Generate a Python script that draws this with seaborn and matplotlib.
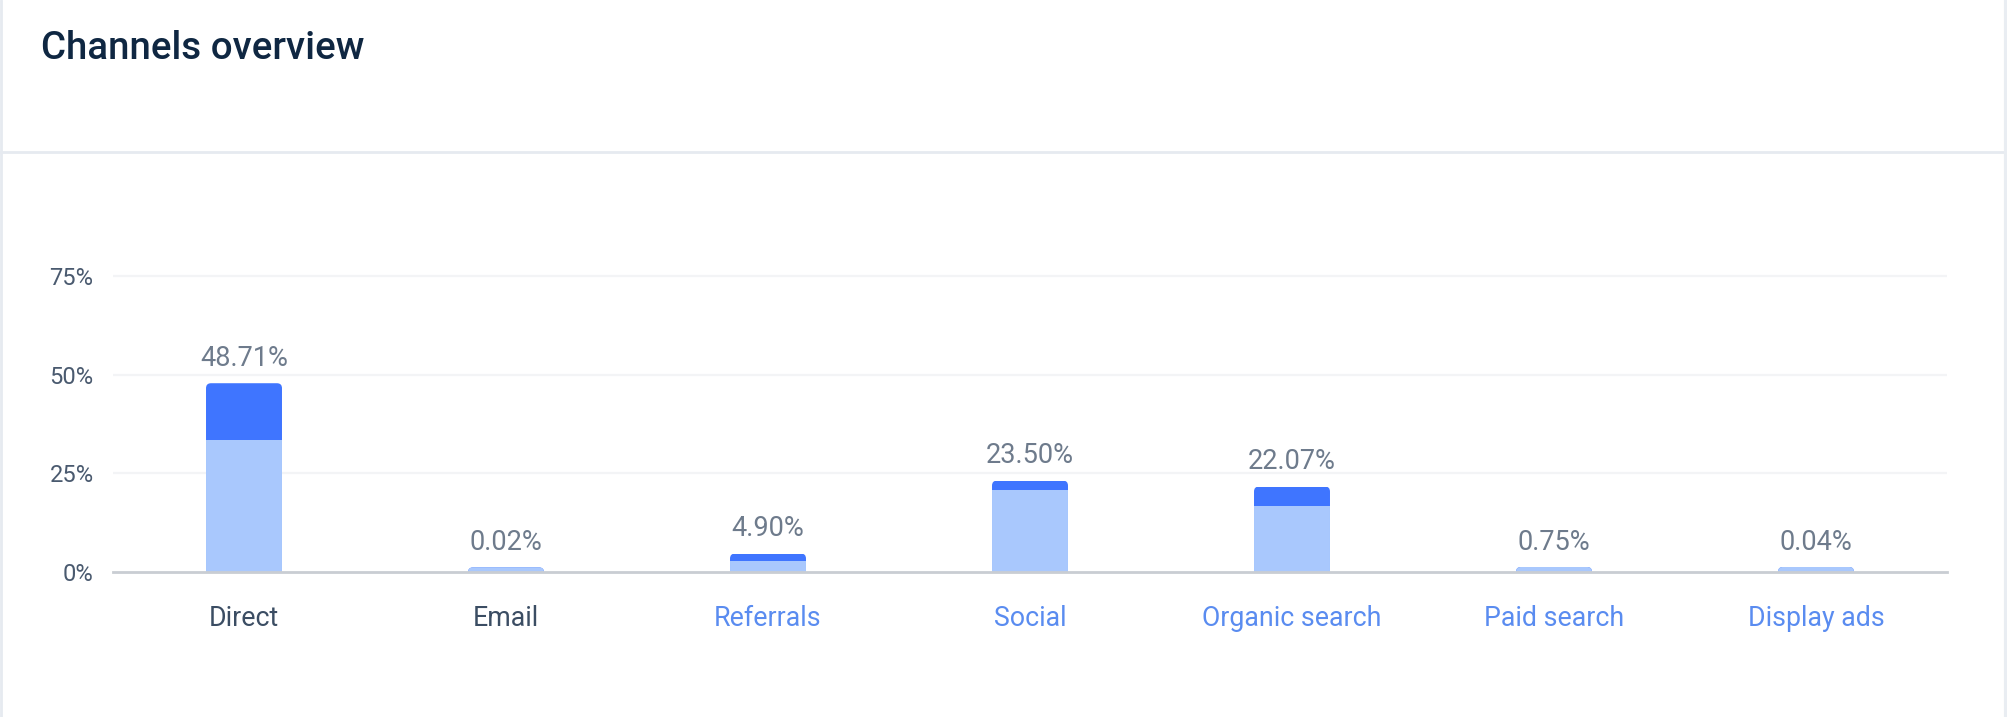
import matplotlib
matplotlib.use("Agg")
import matplotlib.pyplot as plt
import seaborn as sns
import numpy as np
import pandas as pd
from matplotlib.patches import FancyBboxPatch
from matplotlib.lines import Line2D

# ---- data ----
channels = ["Direct", "Email", "Referrals", "Social", "Organic search", "Paid search", "Display ads"]
light_part = [33.3, 1.1, 2.6, 20.6, 16.7, 1.2, 1.2]
dark_part = [14.5, 0.0, 2.0, 2.5, 4.9, 0.0, 0.0]
value_labels = ["48.71%", "0.02%", "4.90%", "23.50%", "22.07%", "0.75%", "0.04%"]
y_ticks = [0, 25, 50, 75]
y_tick_labels = ["0%", "25%", "50%", "75%"]

total = [l + d for l, d in zip(light_part, dark_part)]
df = pd.DataFrame({"channel": channels, "light": light_part, "total": total})

# ---- style ----
sns.set_style("white")
plt.rcParams["font.family"] = ["Roboto", "DejaVu Sans"]

DARK = "#3f75ff"
LIGHT = "#a9c8fd"
W, H = 2008, 717
DPI = 100
fig = plt.figure(figsize=(W / DPI, H / DPI), dpi=DPI)
fig.patch.set_facecolor("white")

ax_left, ax_right = 113 / W, 1947 / W
ax_bottom = (H - 571.7) / H
ymax = 80
px_per_unit = 3.943
ax_top = (H - (571.7 - ymax * px_per_unit)) / H
ax = fig.add_axes([ax_left, ax_bottom, ax_right - ax_left, ax_top - ax_bottom])

bw = 0.29
sns.barplot(data=df, x="channel", y="total", color=DARK, saturation=1, width=bw,
            errorbar=None, ax=ax, zorder=3)
sns.barplot(data=df, x="channel", y="light", color=LIGHT, saturation=1, width=bw,
            errorbar=None, ax=ax, zorder=4)

ax.set_ylim(0, ymax)
ax.set_xlim(-0.5, len(channels) - 0.5)

# rounded top corners via clip paths
n = len(channels)
patches = ax.patches
x_px = (ax_right - ax_left) * W / n  # pixels per x unit
mut_aspect = (1 / px_per_unit) / (1 / x_px)
r_px = 5
for i in range(n):
    for p in (patches[i], patches[i + n]):
        x0 = p.get_x()
        w = p.get_width()
        top = total[i]
        clip = FancyBboxPatch((x0, -5), w, top + 5,
                              boxstyle=f"round,pad=0,rounding_size={r_px / x_px}",
                              mutation_aspect=mut_aspect, transform=ax.transData,
                              facecolor="none", edgecolor="none")
        p.set_clip_path(clip)
        p.set_edgecolor("none")
        p.set_linewidth(0)

# value labels
for i, lab in enumerate(value_labels):
    ax.annotate(lab, xy=(i, total[i]), xytext=(0, 12.5), textcoords="offset points",
                ha="center", va="baseline", fontsize=19.5, color="#6e7b8c")

# grid / axes
ax.set_yticks(y_ticks)
ax.set_yticklabels(y_tick_labels)
for yv in y_ticks[1:]:
    ax.axhline(yv, color="#f3f4f6", lw=1.6, zorder=1)
for s in ["top", "right", "left"]:
    ax.spines[s].set_visible(False)
ax.spines["bottom"].set_color("#c9cdd3")
ax.spines["bottom"].set_linewidth(2)
ax.spines["bottom"].set_zorder(5)
ax.set_xlabel("")
ax.set_ylabel("")
ax.tick_params(axis="y", length=0, pad=14, labelsize=17, labelcolor="#4a5a6f")
ax.tick_params(axis="x", length=0, pad=24, labelsize=19.3)
tick_colors = ["#3b4d63", "#3b4d63", "#5a8cf0", "#5a8cf0", "#5a8cf0", "#5a8cf0", "#5a8cf0"]
for t, c in zip(ax.get_xticklabels(), tick_colors):
    t.set_color(c)
ax.set_facecolor("white")

# card decoration
fig.text(41 / W, 1 - 59.3 / H, "Channels overview", fontsize=27.7, fontweight="medium",
         color="#0f2742", ha="left", va="baseline")
fig.add_artist(Line2D([0, 2005 / W], [1 - 151.5 / H] * 2, transform=fig.transFigure,
                      color="#e6eaf0", lw=2))
fig.add_artist(Line2D([1 / W, 1 / W], [0, 1], transform=fig.transFigure, color="#e6eaf0", lw=2))
fig.add_artist(Line2D([2006 / W, 2006 / W], [0, 1], transform=fig.transFigure, color="#e9edf2", lw=3))

fig.savefig("out.png", dpi=DPI, facecolor="white")
